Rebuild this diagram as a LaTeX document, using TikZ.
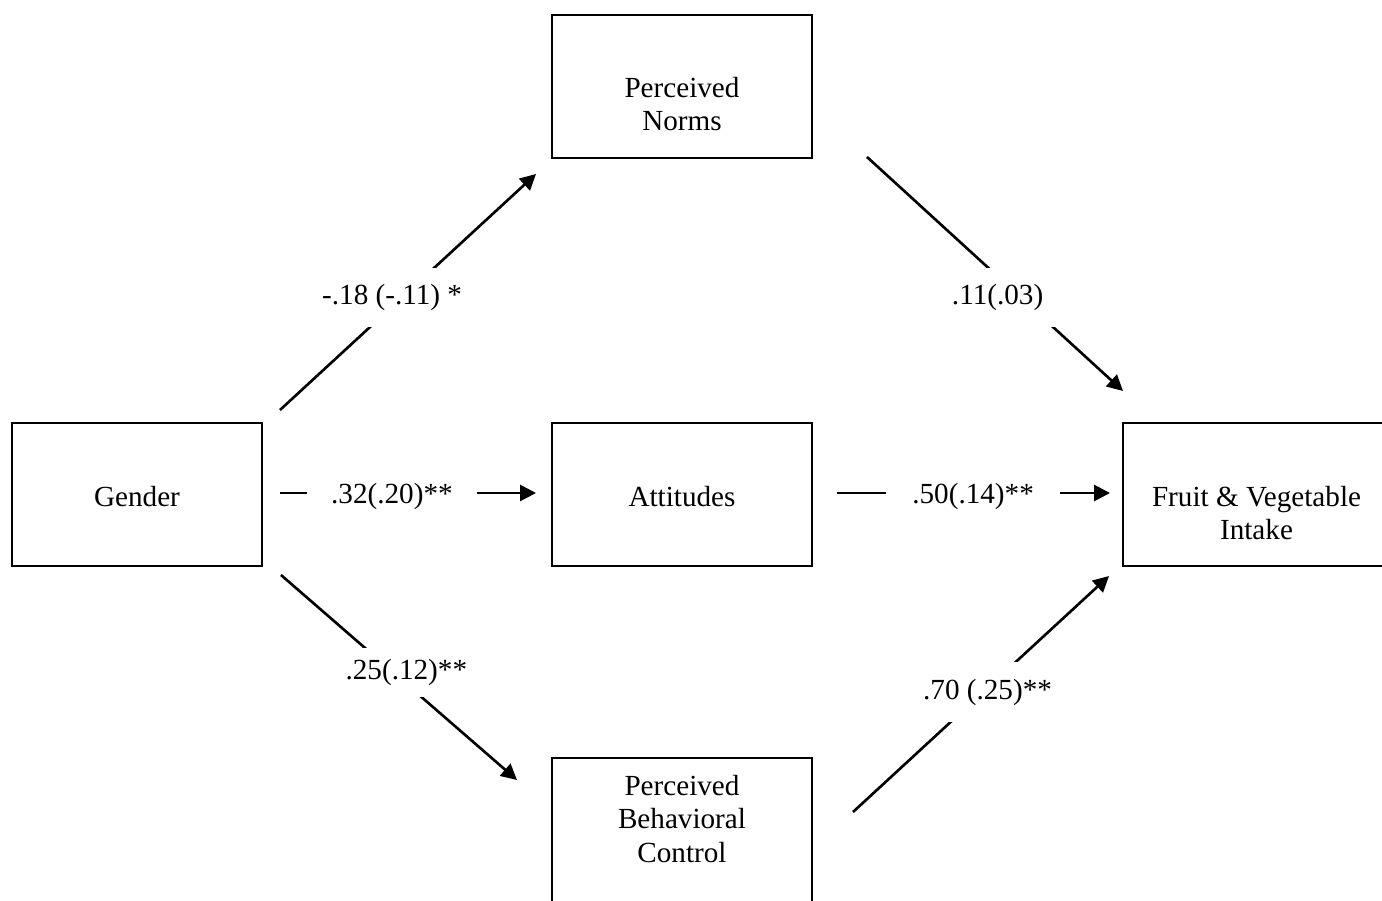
\documentclass[tikz,border=0pt]{standalone}
\usepackage{fontspec}
\setmainfont{Liberation Serif}
\usetikzlibrary{arrows.meta,calc}

\begin{document}
\begin{tikzpicture}[x=0.02cm,y=-0.02cm,
        every node/.style={font=\fontsize{16.6}{19.3}\selectfont},
        box/.style={draw=black,line width=0.9pt,inner sep=0pt,outer sep=0pt,minimum width=5.2cm,minimum height=2.86cm},
        txt/.style={align=center,inner sep=0pt},
        conn/.style={line width=1.5pt,-{Triangle[length=9pt,width=9pt]}},
        coef/.style={fill=white,inner sep=0pt,inner xsep=0.3cm},
        hcoef/.style={fill=white,inner sep=0pt,minimum height=1cm}]
        \useasboundingbox (0,0) rectangle (1382,901);
        \clip (0,0) rectangle (1382,901);

        \node[box] (norms) at (682,86.5) {};
        \node[box,minimum width=5cm] (gender) at (137,494.5) {};
        \node[box] (att) at (682,494.5) {};
        \node[box,minimum width=5.32cm] (fvi) at (1256,494.5) {};
        \node[box,minimum height=3.2cm] (pbc) at (682,838) {};

        \node[txt] (norms-t) at (682,104) {Perceived\\Norms};
        \node[txt,anchor=base] (gender-t) at (137,507) {Gender};
        \node[txt,anchor=base] (att-t) at (682,507) {Attitudes};
        \node[txt] (fvi-t) at (1256.5,513) {Fruit \& Vegetable\\Intake};
        \node[txt] (pbc-t) at (682,819) {Perceived\\Behavioral\\Control};

        \coordinate (gn-s) at ($(gender.north east)+(18,-13)$);
        \coordinate (gn-e) at ($(norms.south west)+(-16,16)$);
        \coordinate (nf-s) at ($(norms.south east)+(55,-1)$);
        \coordinate (nf-e) at ($(fvi.north west)+(0,-32)$);
        \coordinate (gp-s) at ($(gender.south east)+(19,9)$);
        \coordinate (gp-e) at ($(pbc.north west)+(-35,22)$);
        \coordinate (pf-s) at ($(pbc.north east)+(41,54)$);
        \coordinate (pf-e) at ($(fvi.south west)+(-14,10)$);

        \draw[conn] (gn-s) -- node[coef,pos=0.477,xshift=-0.2cm,minimum height=1.18cm] {-.18 (-.11) *} (gn-e);
        \draw[conn] (nf-s) -- node[coef,pos=0.6,xshift=-0.46cm,minimum height=1.18cm] {.11(.03)} (nf-e);
        \draw[conn,shorten <=0.36cm,shorten >=0.32cm] ([yshift=0.03cm]gender.east) -- node[hcoef,pos=0.448,yshift=-0.06cm,minimum width=3.4cm] {.32(.20)**} ([yshift=0.03cm]att.west);
        \draw[conn,shorten <=0.5cm,shorten >=0.26cm] ([yshift=0.03cm]att.east) -- node[hcoef,pos=0.518,yshift=-0.06cm,minimum width=3.48cm] {.50(.14)**} ([yshift=0.03cm]fvi.west);
        \draw[conn] (gp-s) -- node[coef,pos=0.476,xshift=0.26cm,minimum height=0.98cm] {.25(.12)**} (gp-e);
        \draw[conn] (pf-s) -- node[coef,pos=0.508,xshift=0.09cm,minimum height=1.2cm] {.70 (.25)**} (pf-e);
\end{tikzpicture}
\end{document}
